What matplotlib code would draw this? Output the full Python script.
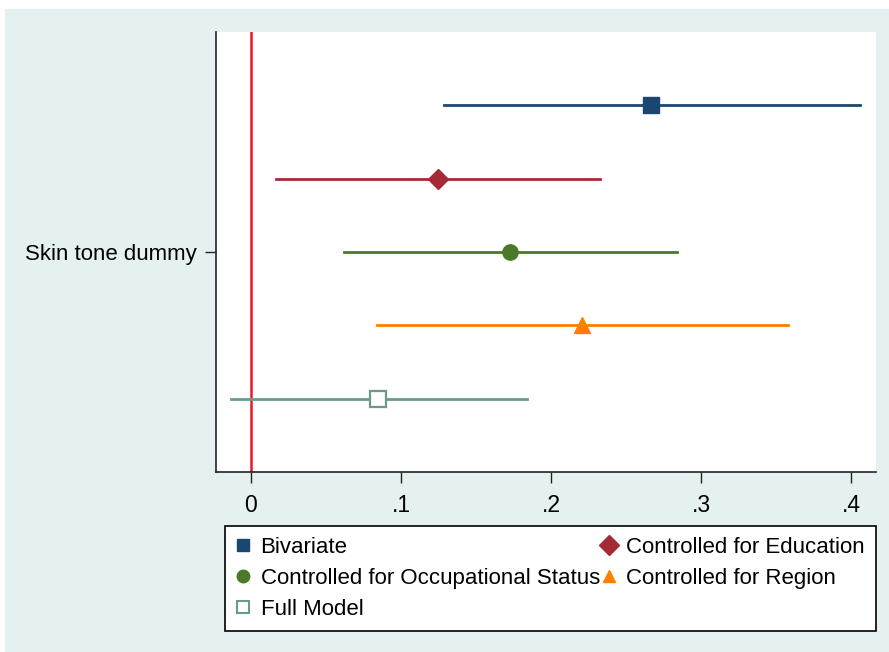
import matplotlib.pyplot as plt
from matplotlib.patches import Rectangle

plt.rcParams['font.family'] = ['Liberation Sans', 'DejaVu Sans']

# coefficient estimates with 95% CIs
models = ["Bivariate", "Controlled for Education", "Controlled for Occupational Status",
          "Controlled for Region", "Full Model"]
coef = [0.267, 0.125, 0.173, 0.221, 0.085]
ci_low = [0.129, 0.017, 0.062, 0.084, -0.013]
ci_high = [0.406, 0.233, 0.284, 0.358, 0.184]
offsets = [2, 1, 0, -1, -2]
colors = ["#1a476f", "#a52a35", "#4a7a28", "#ff8000", "#6a9a8c"]
markers = ["s", "D", "o", "^", "s"]
filled = [True, True, True, True, False]

xticks = [0, 0.1, 0.2, 0.3, 0.4]
xticklabels = ["0", ".1", ".2", ".3", ".4"]

bg = "#e5f1f1"

fig = plt.figure(figsize=(8.89, 6.52), dpi=100)
fig.patch.set_facecolor("white")
fig.patches.append(Rectangle((5 / 889, 0), 1, 1 - 9 / 652, transform=fig.transFigure,
                             facecolor=bg, edgecolor="none", zorder=-10))

ax = fig.add_axes([216 / 889, 1 - 472 / 652, 660 / 889, 440 / 652])
ax.set_facecolor("white")

for i in range(len(models)):
    c = colors[i]
    ax.plot([ci_low[i], ci_high[i]], [offsets[i], offsets[i]], color=c, lw=2, zorder=2)
    fc = c if filled[i] else "white"
    ax.plot([coef[i]], [offsets[i]], marker=markers[i], ms=11 if markers[i] != "D" else 10,
            color=c, markerfacecolor=fc, markeredgecolor=c, mew=1.6 if not filled[i] else 1,
            ls="none", zorder=3)

ax.axvline(0, color="#e8192c", lw=1.8, zorder=1)

ax.set_xlim(-0.0233, 0.4167)
ax.set_ylim(-3, 3)
ax.set_xticks(xticks)
ax.set_xticklabels(xticklabels, fontsize=16.5)
ax.set_yticks([0])
ax.set_yticklabels(["Skin tone dummy"], fontsize=16)
ax.tick_params(axis="both", length=8, width=1, color="#222222", pad=6)
ax.tick_params(axis="x", pad=8)
for s in ["top", "right"]:
    ax.spines[s].set_visible(False)
for s in ["left", "bottom"]:
    ax.spines[s].set_linewidth(1.2)
    ax.spines[s].set_color("#222222")

# legend order: row-wise in two columns
order = [0, 2, 4, 1, 3]
leg_handles = []
for i in order:
    fc = colors[i] if filled[i] else "white"
    h, = ax.plot([], [], marker=markers[i], ls="none", color=colors[i],
                 markerfacecolor=fc, markeredgecolor=colors[i],
                 ms=9 if markers[i] != "D" else 10, mew=1.5 if not filled[i] else 1)
    leg_handles.append(h)
leg = fig.legend(leg_handles, [models[i] for i in order], ncol=2,
                 loc="upper left", bbox_to_anchor=(225 / 889, 1 - 526 / 652),
                 fontsize=16, frameon=True, fancybox=False, framealpha=1,
                 edgecolor="black", handlelength=0.6, handletextpad=0.5,
                 labelspacing=0.45, borderpad=0.5, columnspacing=0.1, borderaxespad=0)
leg.get_frame().set_linewidth(1.2)

fig.savefig("out.png", dpi=100, facecolor=fig.get_facecolor())
